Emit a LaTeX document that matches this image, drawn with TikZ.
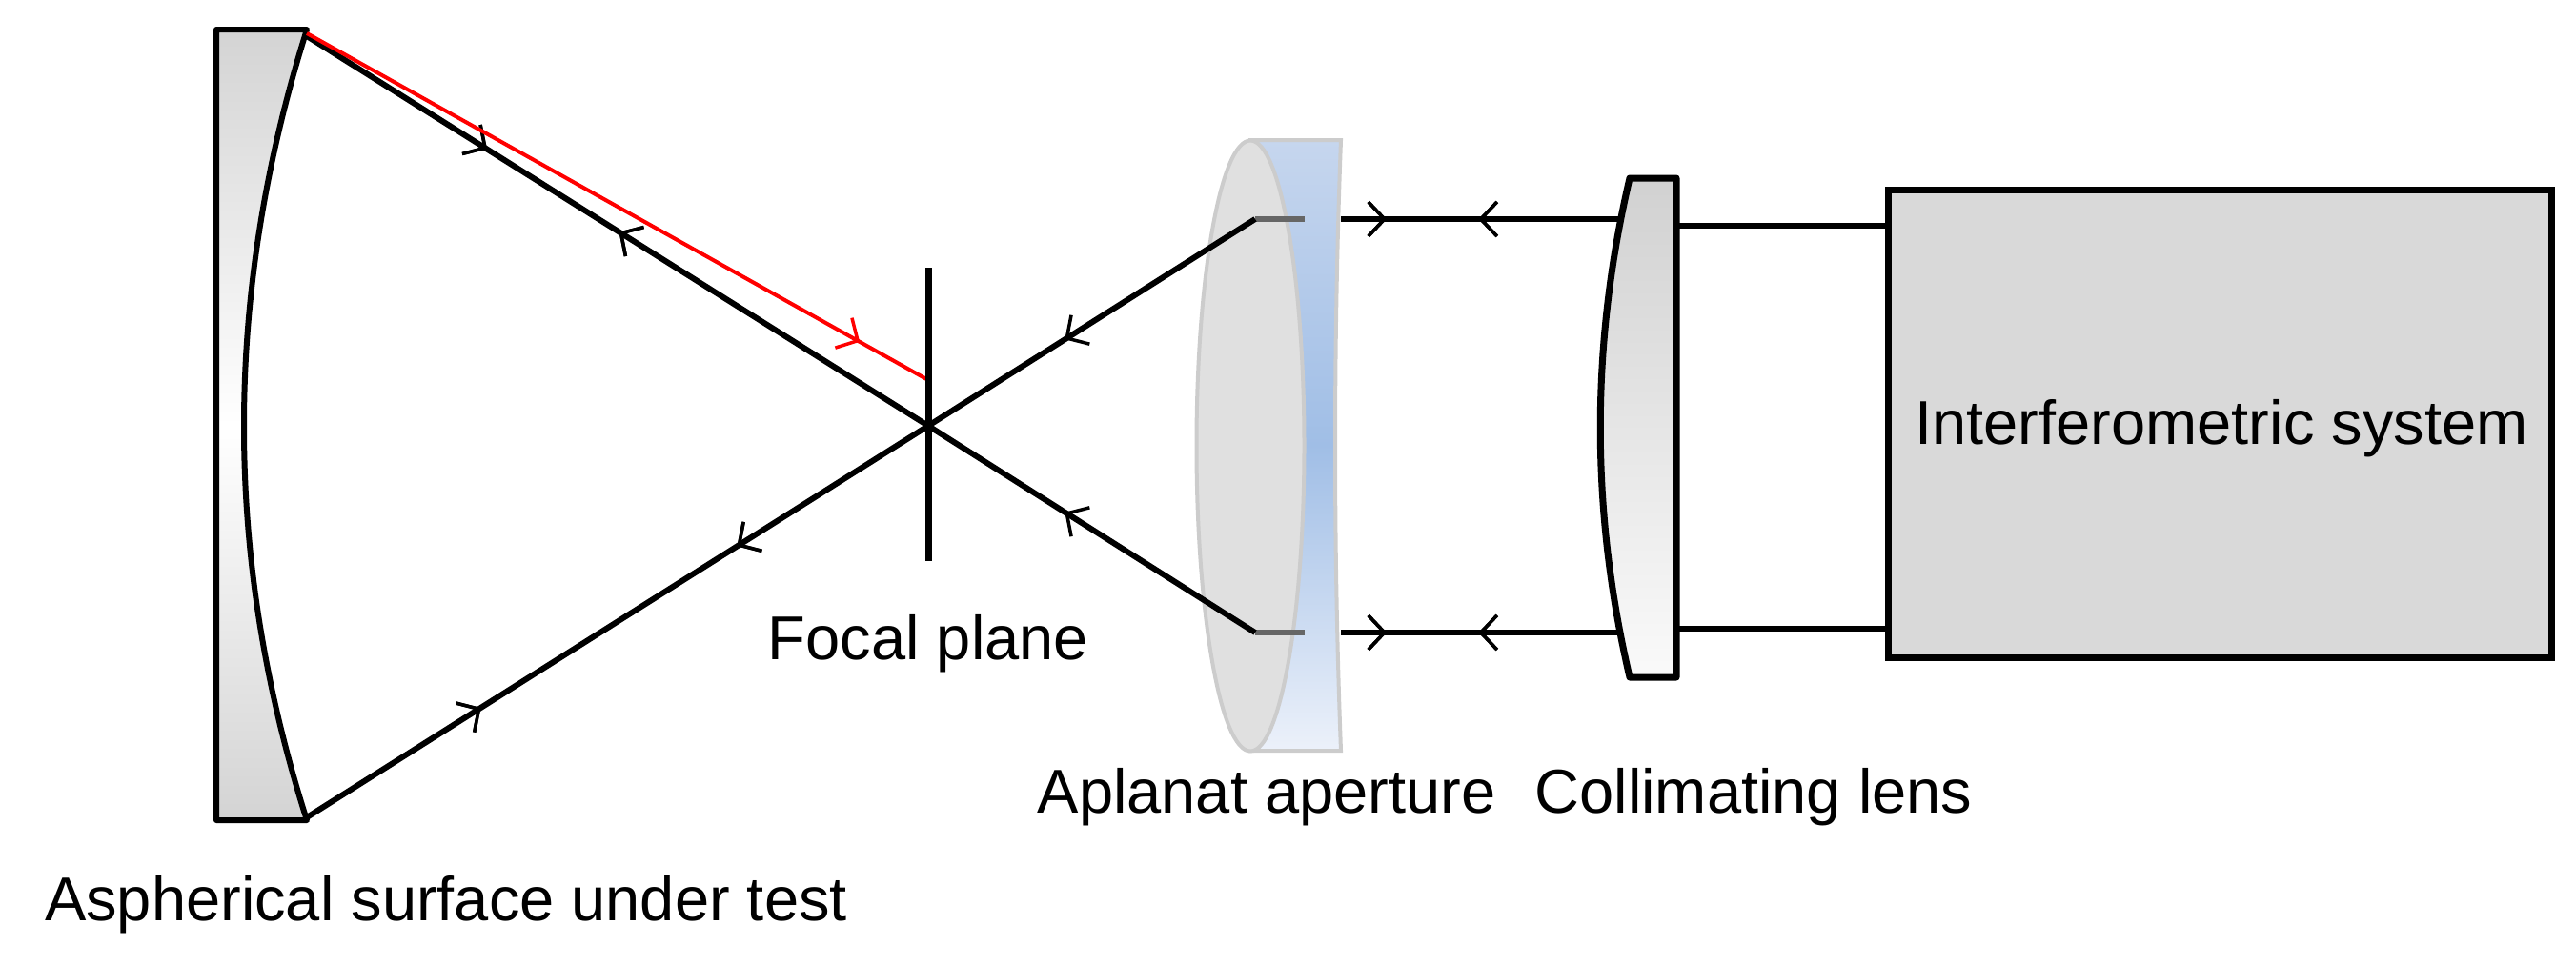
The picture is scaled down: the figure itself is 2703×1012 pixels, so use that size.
\documentclass[tikz,border=0pt]{standalone}
\usepackage{fontspec}
\setmainfont{Liberation Sans}
\usetikzlibrary{arrows.meta,decorations.markings,shapes.geometric}
\definecolor{bltop}{RGB}{198,214,238}
\definecolor{blmid}{RGB}{160,190,230}
\definecolor{blbot}{RGB}{236,241,250}
\begin{document}
\begin{tikzpicture}[x=1pt,y=-1pt,
  ray/.style={line width=6pt,black},
  fw/.style={postaction={decorate},decoration={markings,mark=at position #1 with {\arrow[line width=3.5pt]{Straight Barb[length=17pt,width=36pt]}}}},
  bw/.style={postaction={decorate},decoration={markings,mark=at position #1 with {\arrow[line width=3.5pt]{Straight Barb[reversed,length=17pt,width=36pt]}}}},
  lbl/.style={font=\fontsize{65}{78}\selectfont,inner sep=0pt}]
\useasboundingbox (0,0) rectangle (2703,1012);
% mirror
\path[top color=black!17,bottom color=black!17,middle color=white,draw=black,line width=6pt,line join=round]
  (227,31) -- (322,31) .. controls (234,310) and (234,586) .. (322,861) -- (227,861) -- cycle;
% aplanat
\path[top color=bltop,bottom color=blbot,middle color=blmid,draw=black!20,line width=4pt]
  (1312,147) -- (1407,147) .. controls (1399,360) and (1399,576) .. (1407,788) -- (1312,788) -- cycle;
\node[ellipse,draw=black!20,fill=black!12,line width=4pt,minimum width=113pt,minimum height=641pt,inner sep=0pt] (apl) at (1312,468) {};
% coordinates
\coordinate (mt) at (322,38);
\coordinate (mb) at (322,858);
\coordinate (f) at (974,447);
\coordinate (at) at (1317,230);
\coordinate (ab) at (1317,664);
\coordinate (at2) at (1369,230);
\coordinate (ab2) at (1369,664);
\coordinate (bt) at (1407,230);
\coordinate (bb) at (1407,664);
\coordinate (lt) at (1708,230);
\coordinate (lb) at (1708,664);
\coordinate (rt) at (974,399);
% gray ray parts inside lens
\draw[line width=6pt,black!60] (at) -- (at2);
\draw[line width=6pt,black!60] (ab) -- (ab2);
% rays
\draw[ray,fw=0.29,bw=0.53] (mt) -- (f);
\draw[ray,bw=0.47] (f) -- (ab);
\draw[ray,fw=0.28,bw=0.72] (mb) -- (f);
\draw[ray,bw=0.47] (f) -- (at);
\draw[red,line width=4pt,fw=0.89] (322,35) -- (rt);
\draw[ray,fw=0.16,bw=0.55] (bt) -- (lt);
\draw[ray,fw=0.16,bw=0.55] (bb) -- (lb);
% focal plane
\coordinate (fp1) at (974,281); \coordinate (fp2) at (974,589);
\draw[line width=7pt] (fp1) -- (fp2);
% collimating lens
\path[top color=black!18,bottom color=black!2,draw=black,line width=7pt,line join=round]
  (1710,187) -- (1759,187) -- (1759,711) -- (1710,711) .. controls (1669,536) and (1669,362) .. cycle;
% box
\node[draw,line width=7pt,fill=black!15,minimum width=696pt,minimum height=491pt,inner sep=0pt] (box) at (2329,444.5) {};
\node[lbl] at (2331,450) {Interferometric system};
\draw[line width=6pt] (1759,237) -- (box.west |- 0,237);
\draw[line width=6pt] (1759,660) -- (box.west |- 0,660);
% labels
\node[lbl] at (974,676) {Focal plane};
\node[lbl] at (1329,837) {Aplanat aperture};
\node[lbl] at (1840,837) {Collimating lens};
\node[lbl] at (468,950) {Aspherical surface under test};
\end{tikzpicture}
\end{document}
